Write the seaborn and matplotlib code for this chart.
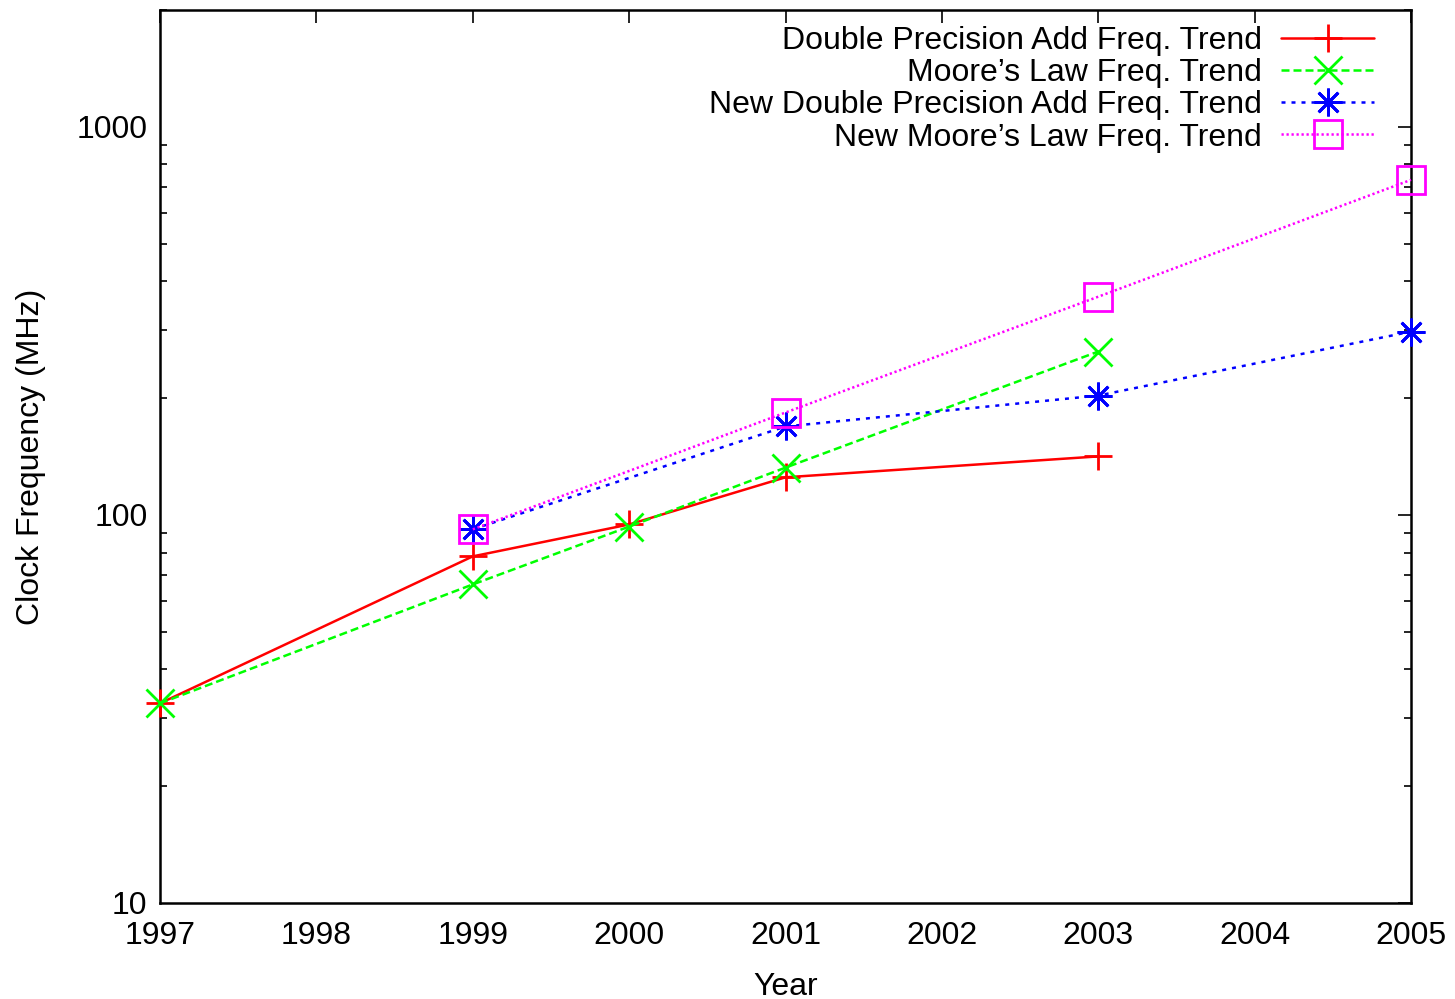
import pandas as pd
import matplotlib
matplotlib.use("Agg")
import matplotlib.pyplot as plt
import matplotlib.ticker as mticker
import seaborn as sns

# ---------- DATA ----------
years_dp = [1997, 1999, 2000, 2001, 2003]
freq_dp = [32.7, 78.2, 94.5, 125, 141.5]

years_moore = [1997, 1999, 2000, 2001, 2003]
freq_moore = [32.7, 66.2, 93.3, 132.4, 263.6]

years_new_dp = [1999, 2001, 2003, 2005]
freq_new_dp = [91.8, 169, 203, 296.7]

years_new_moore = [1999, 2001, 2003, 2005]
freq_new_moore = [91.8, 183.6, 365, 730]

labels = [
    "Double Precision Add Freq. Trend",
    "Moore\u2019s Law Freq. Trend",
    "New Double Precision Add Freq. Trend",
    "New Moore\u2019s Law Freq. Trend",
]

x_ticks = [1997, 1998, 1999, 2000, 2001, 2002, 2003, 2004, 2005]

# ---------- STYLE ----------
sns.set_style("white")
plt.rcParams["font.family"] = ["Liberation Sans", "DejaVu Sans"]
plt.rcParams["text.color"] = "black"
plt.rcParams["axes.labelcolor"] = "black"
plt.rcParams["xtick.color"] = "black"
plt.rcParams["ytick.color"] = "black"

fig = plt.figure(figsize=(14.55, 9.99), dpi=100)
ax = fig.add_axes([0.110, 0.0961, 0.8598, 0.8939])

series = [
    (years_dp, freq_dp, labels[0], "#ff0000", "-", "+", "full"),
    (years_moore, freq_moore, labels[1], "#00ff00", (0, (3.2, 1.6)), "x", "full"),
    (years_new_dp, freq_new_dp, labels[2], "#0000ff", (0, (1.6, 2.4)), (8, 2, 0), "full"),
    (years_new_moore, freq_new_moore, labels[3], "#ff00ff", (0, (0.9, 1.1)), "s", "none"),
]

for xs, ys, lab, col, ls, mk, fill in series:
    df = pd.DataFrame({"Year": xs, "Freq": ys})
    sns.lineplot(data=df, x="Year", y="Freq", ax=ax, color=col, linestyle=ls,
                 linewidth=1.8, marker=mk, markersize=20, markeredgewidth=2.0,
                 markeredgecolor=col, fillstyle=fill, markerfacecolor="none",
                 label=lab, clip_on=False, zorder=3)

ax.set_yscale("log")
ax.set_xlim(1997, 2005)
ax.set_ylim(10, 2000)
ax.set_xticks(x_ticks)
ax.yaxis.set_major_locator(mticker.FixedLocator([10, 100, 1000]))
ax.yaxis.set_major_formatter(mticker.FormatStrFormatter("%d"))
ax.yaxis.set_minor_locator(mticker.LogLocator(base=10, subs=range(2, 10)))
ax.yaxis.set_minor_formatter(mticker.NullFormatter())

ax.tick_params(axis="both", which="major", direction="in", length=9.5, width=1.2,
               top=True, right=True, labelsize=23)
ax.tick_params(axis="x", which="major", pad=13)
ax.tick_params(axis="y", which="major", pad=9)
ax.tick_params(axis="y", which="minor", direction="in", length=5, width=1.2,
               left=True, right=True)
ax.tick_params(axis="x", which="minor", bottom=False, top=False)

for s in ax.spines.values():
    s.set_linewidth(1.8)
    s.set_color("black")

ax.set_xlabel("Year", fontsize=23, labelpad=15)
ax.set_ylabel("Clock Frequency (MHz)", fontsize=23, labelpad=22)

leg = ax.legend(loc="upper right", frameon=False, markerfirst=False, fontsize=23,
                handlelength=2.9, handletextpad=0.6, labelspacing=0.07,
                borderaxespad=0.3, borderpad=0.2, bbox_to_anchor=(0.983, 1.0))

fig.savefig("out.png", dpi=100)
